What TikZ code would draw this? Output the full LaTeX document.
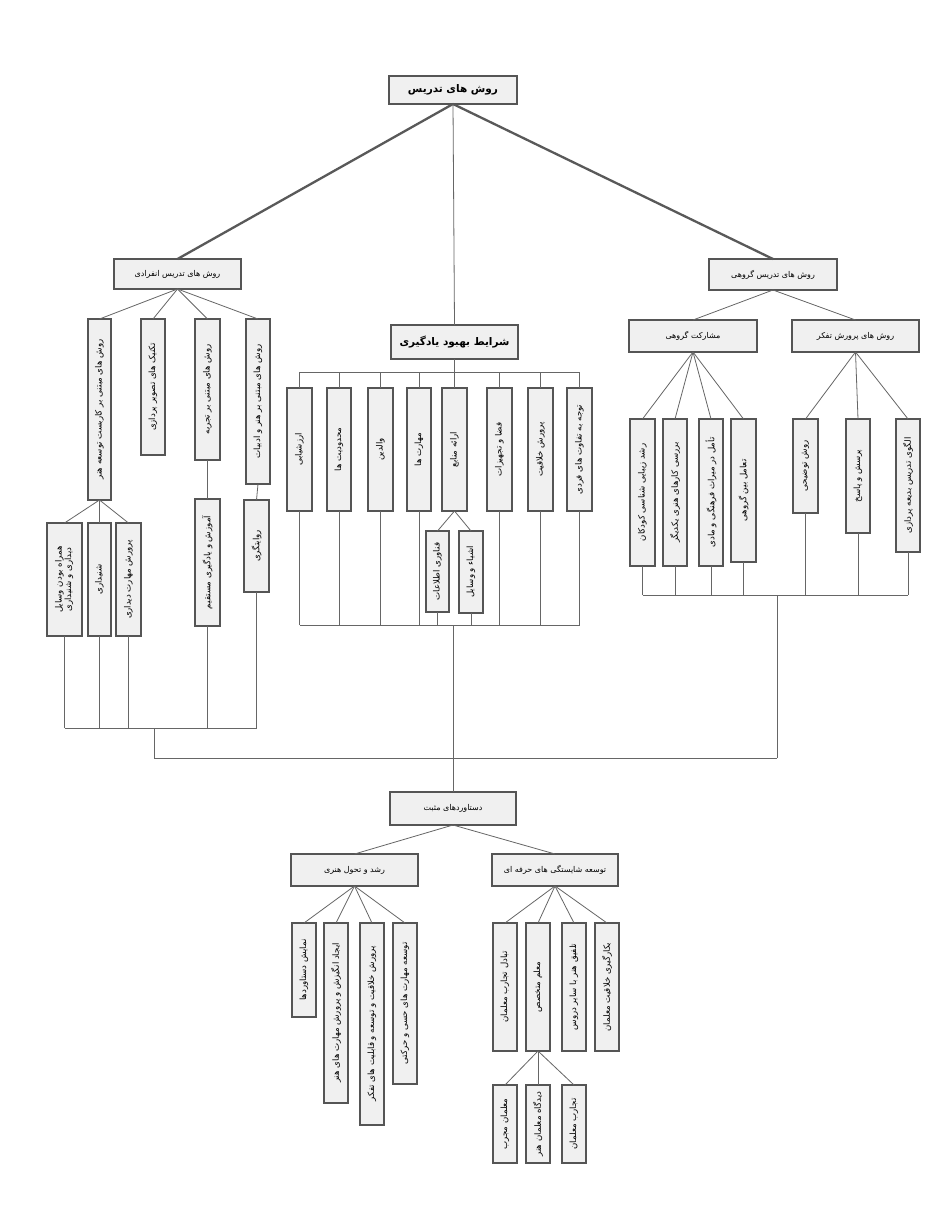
\documentclass[tikz,border=0pt]{standalone}
\usepackage{fontspec}
\usetikzlibrary{calc}
\TeXXeTstate=1
\newfontfamily\fa[Script=Arabic]{DejaVu Sans}
\definecolor{boxfill}{HTML}{F0F0F0}
\definecolor{boxline}{HTML}{555555}
\definecolor{linkcol}{HTML}{666666}
\tikzset{
  box/.style={draw=boxline, fill=boxfill, line width=1.1pt, inner sep=0pt, outer sep=0pt,
    font=\fa\fontsize{8}{9.5}\selectfont},
  vtext/.style={font=\fa\fontsize{8.6}{10}\selectfont},
  link/.style={draw=linkcol, line width=0.8pt},
  heavylink/.style={draw=black!65, line width=2.3pt},
}
\newcommand\hbx[6]{\node[box, minimum width={(#4-#2)*1pt}, minimum height={(#5-#3)*1pt}] (#1) at ({(#2+#4)/2},{(#3+#5)/2}) {#6};}
\newcommand\vbx[6]{\node[box, vtext, minimum width={(#4-#2)*1pt}, minimum height={(#5-#3)*1pt}] (#1) at ({(#2+#4)/2},{(#3+#5)/2}) {\rotatebox{90}{#6}};}
\begin{document}
\begin{tikzpicture}[x=1pt,y=-1pt]
\useasboundingbox (0,0) rectangle (930,1207);
\fill[white] (0,0) rectangle (930,1207);
% ---- top level
\node[box, font=\fa\bfseries\fontsize{10.5}{12}\selectfont, minimum width=128pt, minimum height=28pt] (root) at (453,90) {\beginR روش های تدریس\endR};
\hbx{lh}{114}{259}{241}{289}{\beginR روش های تدریس انفرادی\endR}
\hbx{rh}{709}{259}{837}{290}{\beginR روش های تدریس گروهی\endR}
\node[box, font=\fa\bfseries\fontsize{10.5}{12}\selectfont, minimum width=127pt, minimum height=34pt] (mid) at (454.5,342) {\beginR شرایط بهبود یادگیری\endR};
\hbx{ms}{629}{320}{757}{352}{\beginR مشارکت گروهی\endR}
\hbx{pt}{792}{320}{919}{352}{\beginR روش های پرورش تفکر\endR}
% ---- left branch
\vbx{A}{88}{319}{111}{500}{\beginR روش های مبتنی بر کاربست توسعه هنر\endR}
\vbx{B}{141}{319}{165}{455}{\beginR تکنیک های تصویر پردازی\endR}
\vbx{C}{195}{319}{220}{460}{\beginR روش های مبتنی بر تجربه\endR}
\vbx{D}{246}{319}{270}{484}{\beginR روش های مبتنی بر هنر و ادبیات\endR}
\node[box, vtext, minimum width=35pt, minimum height=113pt] (a1) at (64.5,579.5) {\rotatebox{90}{\renewcommand\arraystretch{0.95}\begin{tabular}{@{}c@{}}\beginR همراه بودن وسایل\endR\\\beginR دیداری و شنیداری\endR\end{tabular}}};
\vbx{a2}{88}{523}{111}{636}{\beginR شنیداری\endR}
\vbx{a3}{116}{523}{141}{636}{\beginR پرورش مهارت دیداری\endR}
\vbx{c2}{195}{499}{220}{626}{\beginR آموزش و یادگیری مستقیم\endR}
\vbx{d2}{244}{500}{269}{592}{\beginR روایتگری\endR}
% ---- middle branch
\vbx{m1}{287}{388}{312}{511}{\beginR ارزشیابی\endR}
\vbx{m2}{327}{388}{351}{511}{\beginR محدودیت ها\endR}
\vbx{m3}{368}{388}{393}{511}{\beginR والدین\endR}
\vbx{m4}{407}{388}{431}{511}{\beginR مهارت ها\endR}
\vbx{m5}{442}{388}{467}{511}{\beginR ارائه منابع\endR}
\vbx{m6}{487}{388}{512}{511}{\beginR فضا و تجهیزات\endR}
\vbx{m7}{528}{388}{553}{511}{\beginR پرورش خلاقیت\endR}
\vbx{m8}{567}{388}{592}{511}{\beginR توجه به تفاوت های فردی\endR}
\vbx{m5a}{426}{531}{449}{612}{\beginR فناوری اطلاعات\endR}
\vbx{m5b}{459}{531}{483}{613}{\beginR اشیاء و وسایل\endR}
% ---- right branch
\vbx{r1}{630}{419}{655}{566}{\beginR رشد زیبایی شناسی کودکان\endR}
\vbx{r2}{663}{419}{687}{566}{\beginR بررسی کارهای هنری یکدیگر\endR}
\vbx{r3}{699}{419}{723}{566}{\beginR تأمل در میراث فرهنگی و مادی\endR}
\vbx{r4}{731}{419}{756}{562}{\beginR تعامل بین گروهی\endR}
\vbx{r5}{793}{419}{818}{513}{\beginR روش توضیحی\endR}
\vbx{r6}{846}{419}{870}{533}{\beginR پرسش و پاسخ\endR}
\vbx{r7}{896}{419}{920}{552}{\beginR الگوی تدریس بدیعه پردازی\endR}
% ---- bottom
\hbx{ach}{390}{792}{516}{825}{\beginR دستاوردهای مثبت\endR}
\hbx{rosh}{291}{854}{418}{886}{\beginR رشد و تحول هنری\endR}
\hbx{tos}{492}{854}{618}{886}{\beginR توسعه شایستگی های حرفه ای\endR}
\vbx{b1}{292}{923}{316}{1017}{\beginR نمایش دستاوردها\endR}
\vbx{b2}{324}{923}{348}{1103}{\beginR ایجاد انگیزش و پرورش مهارت های هنر\endR}
\vbx{b3}{360}{923}{384}{1125}{\beginR پرورش خلاقیت و توسعه و قابلیت های تفکر\endR}
\vbx{b4}{393}{923}{417}{1084}{\beginR توسعه مهارت های حسی و حرکتی\endR}
\vbx{b5}{493}{923}{517}{1051}{\beginR تبادل تجارب معلمان\endR}
\vbx{b6}{526}{923}{550}{1051}{\beginR معلم متخصص\endR}
\vbx{b7}{562}{923}{586}{1051}{\beginR تلفیق هنر با سایر دروس\endR}
\vbx{b8}{595}{923}{619}{1051}{\beginR بکارگیری خلاقیت معلمان\endR}
\vbx{b6a}{493}{1085}{517}{1163}{\beginR معلمان مجرب\endR}
\vbx{b6b}{526}{1085}{550}{1163}{\beginR دیدگاه معلمان هنر\endR}
\vbx{b6c}{562}{1085}{586}{1163}{\beginR تجارب معلمان\endR}
% ---- bar levels
\coordinate (lbar) at (0,728);
\coordinate (gbar) at (0,758);
\coordinate (mtop) at (0,372);
\coordinate (mbot) at (0,625);
\coordinate (rbar) at (0,595);
\coordinate (ljx) at (154,0);
\coordinate (rjx) at (777,0);
% ---- connectors: top
\draw[heavylink] (root.south) -- (lh.north);
\draw[heavylink] (root.south) -- (rh.north);
\draw[link] (root.south) -- (mid.north);
% left fan
\foreach \n in {A,B,C,D} \draw[link] (lh.south) -- (\n.north);
\foreach \n in {a1,a2,a3} \draw[link] (A.south) -- (\n.north);
\draw[link] (C.south) -- (c2.north);
\draw[link] (D.south) -- (d2.north);
\foreach \n in {a1,a2,a3,c2,d2} \draw[link] (\n.south) -- (\n.south |- lbar);
\draw[link] (a1.south |- lbar) -- (d2.south |- lbar);
\draw[link] (ljx |- lbar) -- (ljx |- gbar);
% middle
\draw[link] (mid.south) -- (mid.south |- mtop);
\draw[link] (m1.north |- mtop) -- (m8.north |- mtop);
\foreach \n in {m1,m2,m3,m4,m5,m6,m7,m8} \draw[link] (\n.north |- mtop) -- (\n.north);
\draw[link] (m5.south) -- (m5a.north);
\draw[link] (m5.south) -- (m5b.north);
\foreach \n in {m1,m2,m3,m4,m6,m7,m8,m5a,m5b} \draw[link] (\n.south) -- (\n.south |- mbot);
\draw[link] (m1.south |- mbot) -- (m8.south |- mbot);
\draw[link] (ach.north |- mbot) -- (ach.north);
% right
\draw[link] (rh.south) -- (ms.north);
\draw[link] (rh.south) -- (pt.north);
\foreach \n in {r1,r2,r3,r4} \draw[link] (ms.south) -- (\n.north);
\foreach \n in {r5,r6,r7} \draw[link] (pt.south) -- (\n.north);
\foreach \n in {r1,r2,r3,r4,r5,r6,r7} \draw[link] (\n.south) -- (\n.south |- rbar);
\draw[link] (r1.south |- rbar) -- (r7.south |- rbar);
\draw[link] (rjx |- rbar) -- (rjx |- gbar);
% global bar
\draw[link] (ljx |- gbar) -- (rjx |- gbar);
% bottom
\draw[link] (ach.south) -- (rosh.north);
\draw[link] (ach.south) -- (tos.north);
\foreach \n in {b1,b2,b3,b4} \draw[link] (rosh.south) -- (\n.north);
\foreach \n in {b5,b6,b7,b8} \draw[link] (tos.south) -- (\n.north);
\foreach \n in {b6a,b6b,b6c} \draw[link] (b6.south) -- (\n.north);
\end{tikzpicture}
\end{document}
